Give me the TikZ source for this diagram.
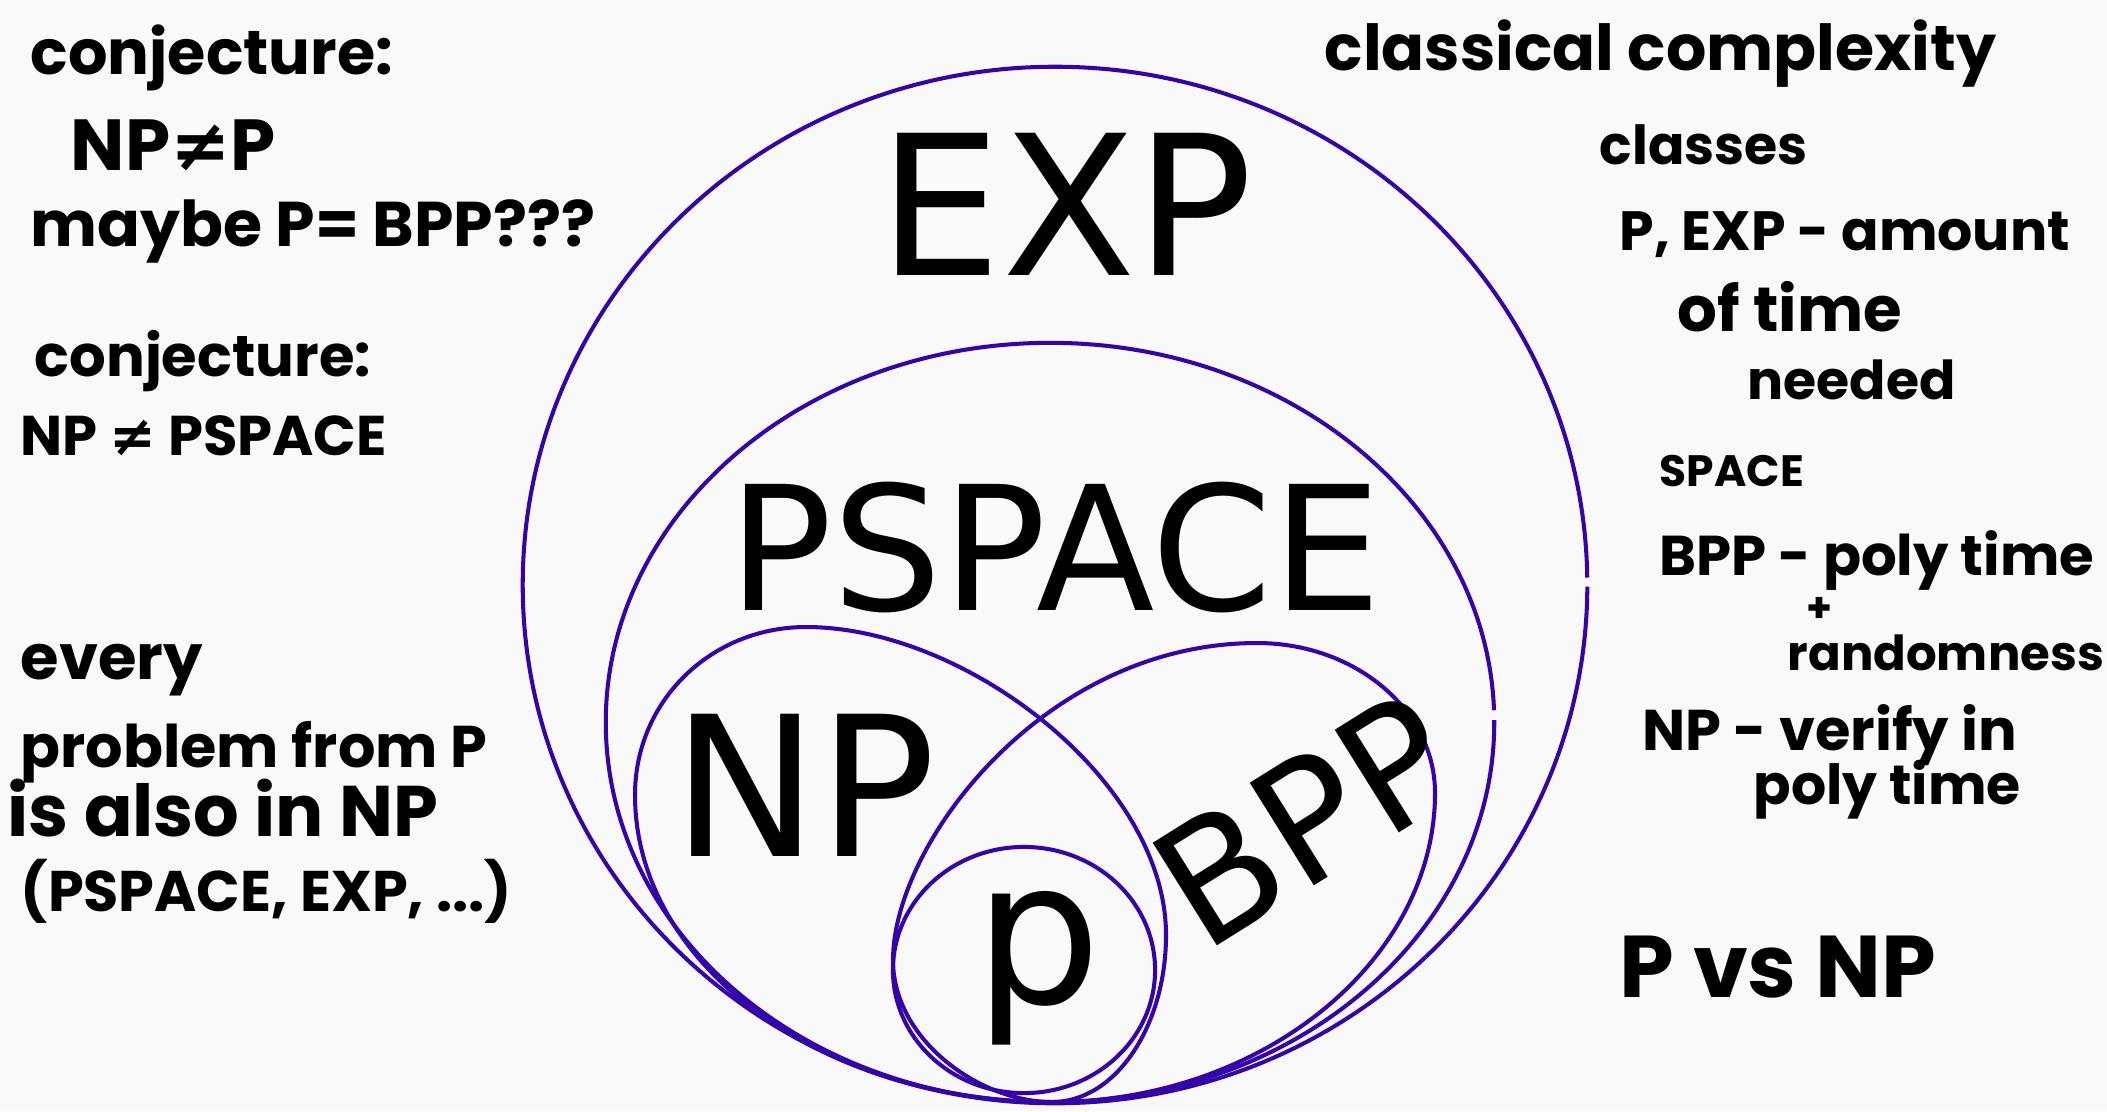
\documentclass[tikz,border=0pt]{standalone}
\usepackage{fontspec}
\setmainfont{DejaVu Sans}
\newfontfamily\labelfont{DejaVu Sans}
\newfontfamily\hand{Poppins}
\definecolor{ink}{RGB}{52,4,170}
\definecolor{paper}{RGB}{249,249,249}
% handwritten note, stretched to a given width
\newcommand{\hw}[2]{\resizebox{#1}{!}{\hand\bfseries #2}}
\newcommand{\nq}{{\labelfont\bfseries ≠}}

\begin{document}
\begin{tikzpicture}[x=0.01cm, y=-0.01cm,
  classline/.style={draw=ink, line width=1.15pt},
  biglabel/.style={inner sep=0pt, anchor=base, text=black},
  note/.style={inner sep=0pt, anchor=base west, text=black}]

\fill[paper] (0,0) rectangle (2107,1111);
\useasboundingbox (0,0) rectangle (2107,1111);

% all classes touch at the bottom point
\coordinate (bot) at (1052,1102);

% EXP (outer ellipse, with the small break on its right side)
\draw[classline] (1055,585) ++(0.83:5.32cm and 5.18cm)
  arc[start angle=0.83, end angle=359.83, x radius=5.32cm, y radius=5.18cm];

% PSPACE
\draw[classline] (1050,722.5) ++(1.85:4.44cm and 3.795cm)
  arc[start angle=1.85, end angle=360.35, x radius=4.44cm, y radius=3.795cm];

% NP: egg leaning to the upper left
\draw[classline] (bot)
  .. controls (822,1102) and (635,965) .. (635,795)
  .. controls (635,700) and (712,627) .. (806,627)
  .. controls (966,627) and (1166,781) .. (1166,935)
  .. controls (1166,1027) and (1115,1102) .. (bot) -- cycle;

% BPP: egg leaning to the upper right
\draw[classline] (bot)
  .. controls (980,1102) and (893,1040) .. (893,960)
  .. controls (893,844) and (1044,643) .. (1257,643)
  .. controls (1355,643) and (1435,710) .. (1435,793)
  .. controls (1435,960) and (1263,1102) .. (bot) -- cycle;

% P
\draw[classline] (1024,970) ellipse[x radius=1.31cm, y radius=1.23cm];

% class labels
\node[biglabel, font=\labelfont\fontsize{55.5}{60}\selectfont] (exp) at (1066,275) {EXP};
\node[biglabel, font=\labelfont\fontsize{49.2}{54}\selectfont] (pspace) at (1055,610) {PSPACE};
\node[biglabel, font=\labelfont\fontsize{55.5}{60}\selectfont] (np) at (804,856) {NP};
\node[inner sep=0pt, rotate=32, font=\labelfont\fontsize{47.2}{52}\selectfont] (bpp) at (1305,820) {BPP};
\node[biglabel, font=\labelfont\fontsize{56.9}{62}\selectfont] (p) at (1038,1003) {p};

% notes on the left
\node[note] (c1) at (30,74) {\hw{3.62cm}{conjecture:}};
\node[note] (c1a) at (70,170) {\hw{2.05cm}{NP\nq P}};
\node[note] (c1b) at (30,246) {\hw{5.64cm}{maybe P= BPP???}};
\node[note] (c2) at (34,376) {\hw{3.36cm}{conjecture:}};
\node[note] (c2a) at (20,455) {\hw{3.66cm}{NP \nq\ PSPACE}};
\node[note] (e1) at (20,679) {\hw{1.82cm}{every}};
\node[note] (e2) at (20,767) {\hw{4.66cm}{problem from P}};
\node[note] (e3) at (7,836) {\hw{4.30cm}{is also in NP}};
\node[note] (e4) at (20,911) {\hw{4.91cm}{(PSPACE, EXP, ...)}};

% notes on the right
\node[note] (r1) at (1324,70) {\hw{6.71cm}{classical complexity}};
\node[note] (r2) at (1599,164) {\hw{2.08cm}{classes}};
\node[note] (r3) at (1619,250) {\hw{4.50cm}{P, EXP - amount}};
\node[note] (r4) at (1677,331) {\hw{2.24cm}{of time}};
\node[note] (r5) at (1747,399) {\hw{2.08cm}{needed}};
\node[note] (r6) at (1659,486) {\hw{1.44cm}{SPACE}};
\node[note] (r7) at (1659,575) {\hw{4.34cm}{BPP - poly time}};
\node[inner sep=0pt] (r8) at (1819,610) {\hw{0.26cm}{+}};
\node[note] (r9) at (1787,670) {\hw{3.16cm}{randomness}};
\node[note] (r10) at (1642,750) {\hw{3.74cm}{NP - verify in}};
\node[note] (r11) at (1753,804) {\hw{2.67cm}{poly time}};
\node[note] (r12) at (1619,997) {\hw{3.16cm}{P vs NP}};
\end{tikzpicture}
\end{document}
